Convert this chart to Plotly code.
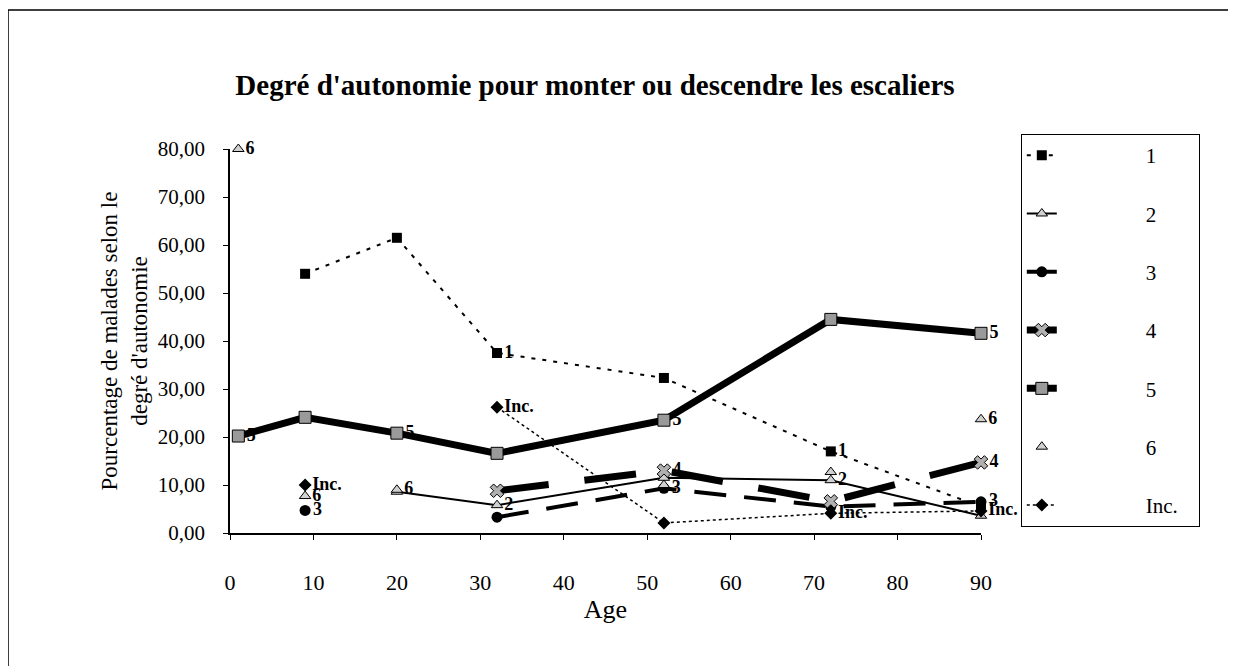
import plotly.graph_objects as go

ages = [1, 9, 20, 32, 52, 72, 90]
s1 = [None, 54.0, 61.5, 37.5, 32.3, 17.0, 5.5]
s2 = [None, None, 8.6, 5.8, 11.5, 11.0, 3.6]
s3 = [None, 4.7, None, 3.3, 9.3, 5.5, 6.5]
s4 = [None, None, None, 8.8, 13.0, 6.6, 14.7]
s5 = [20.2, 24.1, 20.8, 16.6, 23.5, 44.5, 41.6]
s6 = [80.0, 7.7, 9.0, None, 10.0, 12.7, 23.7]
sinc = [None, 10.0, None, 26.2, 2.1, 4.1, 4.6]

t1 = ["", "", "", "1", "", "1", ""]
t2 = ["", "", "", "2", "", "2", ""]
t3 = ["", "3", "", "", "3", "", "3"]
t4 = ["", "", "", "", "4", "", "4"]
t5 = ["5", "", "5", "", "5", "", "5"]
t6 = ["6", "6", "6", "", "", "", "6"]
tinc = ["", "Inc.", "", "Inc.", "", "Inc.", "Inc."]

FONT = "Liberation Serif"
lbl_font = dict(family=FONT, size=18, color="black", weight="bold")
PAD = "\u00a0" * 16
TAIL = "\u00a0" * 3

fig = go.Figure()

def add(name, y, txt, mode, line, marker):
    fig.add_trace(go.Scatter(
        x=ages, y=y, name=PAD + name + TAIL, mode=mode, text=txt,
        textposition="middle right", textfont=lbl_font,
        line=line, marker=marker, connectgaps=False,
        legendgroup=name, cliponaxis=False))

add("1", s1, t1, "lines+markers+text",
    dict(color="black", width=2, dash="4px,7px"),
    dict(symbol="square", size=10, color="black"))
add("2", s2, t2, "lines+markers+text",
    dict(color="black", width=2),
    dict(symbol="triangle-up", size=10, color="#d0d0d0", line=dict(color="black", width=1)))
add("3", s3, t3, "lines+markers+text",
    dict(color="black", width=4, dash="32px,18px"),
    dict(symbol="circle", size=11, color="black"))
add("4", s4, t4, "lines+markers+text",
    dict(color="black", width=7, dash="52px,36px"),
    dict(symbol="x", size=12, color="#b0b0b0", line=dict(color="black", width=1)))
add("5", s5, t5, "lines+markers+text",
    dict(color="black", width=7),
    dict(symbol="square", size=12, color="#9a9a9a", line=dict(color="black", width=1)))
add("6", s6, t6, "markers+text",
    dict(color="black", width=0),
    dict(symbol="triangle-up", size=10, color="#d0d0d0", line=dict(color="black", width=1)))
add("Inc.", sinc, tinc, "lines+markers+text",
    dict(color="black", width=1.5, dash="dot"),
    dict(symbol="diamond", size=10, color="black"))

# figure is offset by the 8px body margin of the page
fig.update_layout(
    width=1228, height=658,
    margin=dict(l=222, r=255, t=141, b=133, autoexpand=False),
    paper_bgcolor="white", plot_bgcolor="white",
    font=dict(family=FONT, size=20, color="black"),
    separators=", ",
    title=dict(text="Degré d'autonomie pour monter ou descendre les escaliers",
               font=dict(family=FONT, size=29, color="black", weight="bold"),
               x=0.486, xref="paper", xanchor="center",
               y=1 - 77 / 658, yanchor="middle"),
    showlegend=True,
    legend=dict(x=1.053, xanchor="left",
                y=1.039, yanchor="top",
                maxheight=440,
                bordercolor="black", borderwidth=1, bgcolor="white",
                font=dict(family=FONT, size=21, color="black"),
                tracegroupgap=28, itemwidth=30),
)

fig.update_xaxes(range=[0, 90], tickvals=[0, 10, 20, 30, 40, 50, 60, 70, 80, 90],
                 showgrid=False, zeroline=False, showline=True, linecolor="black",
                 linewidth=1.5, ticks="outside", ticklen=5, tickcolor="black",
                 tickfont=dict(family=FONT, size=22), ticklabelstandoff=24,
                 title=dict(text="Age", font=dict(family=FONT, size=26), standoff=6))
fig.update_yaxes(range=[0, 80], tickvals=[0, 10, 20, 30, 40, 50, 60, 70, 80],
                 tickformat=".2f",
                 showgrid=False, zeroline=False, showline=True, linecolor="black",
                 linewidth=1.5, ticks="outside", ticklen=5, tickcolor="black",
                 tickfont=dict(family=FONT, size=21), ticklabelstandoff=14,
                 title=dict(text="Pourcentage de malades selon le<br>degré d'autonomie",
                            font=dict(family=FONT, size=23), standoff=4))

fig.add_shape(type="rect", xref="paper", yref="paper",
              x0=(0 - 222) / 751, x1=(1226 - 222) / 751,
              y0=(525 - 700) / 384, y1=(525 - 2) / 384,
              line=dict(color="black", width=1.5), layer="below")

fig.write_html("out.html")
